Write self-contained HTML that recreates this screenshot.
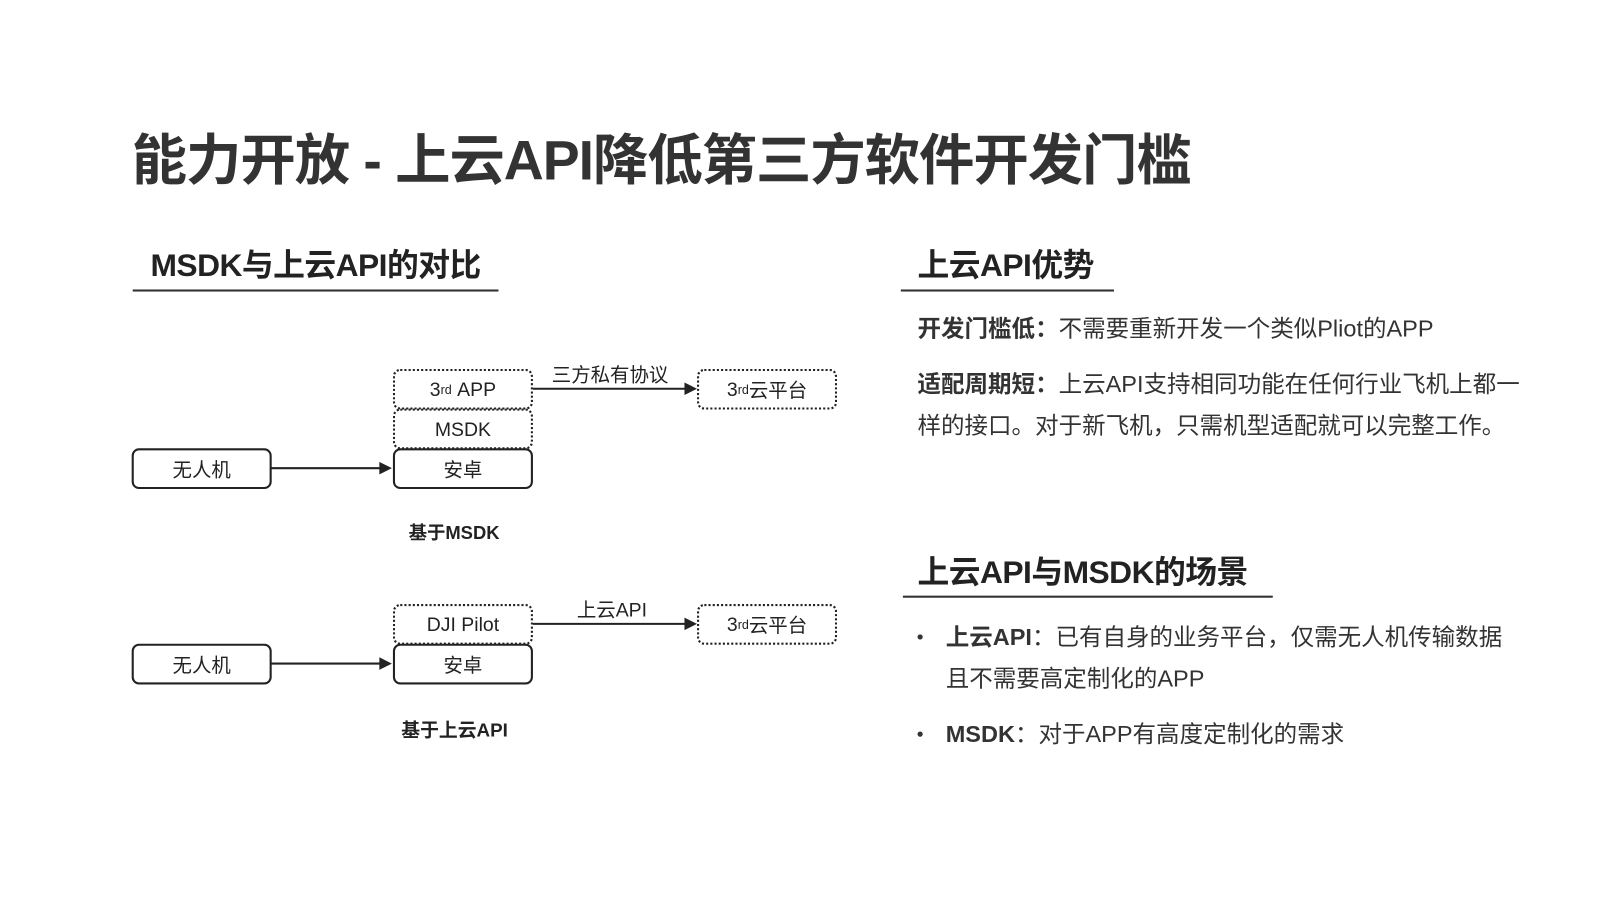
<!DOCTYPE html>
<html><head><meta charset="utf-8"><style>
body{margin:0;width:1600px;height:900px;background:#fff;position:relative;overflow:hidden;font-family:"Liberation Sans","Noto Sans CJK SC",sans-serif;color:#222}
#w{position:absolute;left:0;top:0;width:1532px;height:862px;transform:scale(1.045);transform-origin:0 0}
.a{position:absolute;white-space:nowrap}
.t{font-size:53px;font-weight:bold;color:#333;letter-spacing:-1px}
.h{font-size:30.4px;font-weight:bold;color:#222;letter-spacing:-0.5px}
.u{position:absolute;height:2px;background:#333}
.p{font-size:22.5px;color:#333}
.b{font-weight:bold}
.box{position:absolute;box-sizing:border-box;width:134px;height:39px;border:2px solid #222;border-radius:7px;display:flex;align-items:center;justify-content:center;font-size:18.6px;color:#222}
.d{border:2px dotted #222}
sup{font-size:12px;vertical-align:8px;line-height:0}
.dot{position:absolute;width:5px;height:5px;border-radius:50%;background:#333}
</style></head><body><div id="w">
<div class="a t" style="left:126px;top:112px">能力开放 - 上云API降低第三方软件开发门槛</div>
<div class="a h" style="left:144px;top:229px">MSDK与上云API的对比</div>
<div class="u" style="left:127px;top:277px;width:350px"></div>
<div class="a h" style="left:878px;top:229px">上云API优势</div>
<div class="u" style="left:862px;top:277px;width:204px"></div>
<div class="a h" style="left:878px;top:523px">上云API与MSDK的场景</div>
<div class="u" style="left:864px;top:570px;width:354px"></div>

<div class="box d" style="left:376px;top:353px">3<sup>rd</sup>&nbsp;APP</div>
<div class="box d" style="left:376px;top:391px">MSDK</div>
<div class="box" style="left:376px;top:429px">安卓</div>
<div class="box" style="left:126px;top:429px">无人机</div>
<div class="box d" style="left:667px;top:353px">3<sup>rd</sup>云平台</div>
<div class="a" style="left:528px;top:344px;font-size:18.6px">三方私有协议</div>
<div class="a b" style="left:391px;top:497px;font-size:17.6px">基于MSDK</div>

<div class="box d" style="left:376px;top:578px">DJI Pilot</div>
<div class="box" style="left:376px;top:616px">安卓</div>
<div class="box" style="left:126px;top:616px">无人机</div>
<div class="box d" style="left:667px;top:578px">3<sup>rd</sup>云平台</div>
<div class="a" style="left:552px;top:569px;font-size:18.6px">上云API</div>
<div class="a b" style="left:384px;top:685px;font-size:18px">基于上云API</div>

<svg class="a" style="left:0;top:0" width="1532" height="862">
<g stroke="#222" stroke-width="2" fill="#222">
<line x1="259" y1="448" x2="365" y2="448"/><polygon points="375,448 363,442 363,454" stroke="none"/>
<line x1="510" y1="372" x2="656" y2="372"/><polygon points="667,372 655,366 655,378" stroke="none"/>
<line x1="259" y1="635" x2="365" y2="635"/><polygon points="375,635 363,629 363,641" stroke="none"/>
<line x1="510" y1="597" x2="656" y2="597"/><polygon points="667,597 655,591 655,603" stroke="none"/>
</g></svg>

<div class="a p" style="left:878px;top:297px"><span class="b">开发门槛低：</span>不需要重新开发一个类似Pliot的APP</div>
<div class="a p" style="left:878px;top:350px"><span class="b">适配周期短：</span>上云API支持相同功能在任何行业飞机上都一</div>
<div class="a p" style="left:878px;top:390px">样的接口。对于新飞机，只需机型适配就可以完整工作。</div>
<div class="dot" style="left:878px;top:607px"></div>
<div class="a p" style="left:905px;top:592px"><span class="b">上云API</span>：已有自身的业务平台，仅需无人机传输数据</div>
<div class="a p" style="left:905px;top:632px">且不需要高定制化的APP</div>
<div class="dot" style="left:878px;top:700px"></div>
<div class="a p" style="left:905px;top:685px"><span class="b">MSDK</span>：对于APP有高度定制化的需求</div>
</div></body></html>
